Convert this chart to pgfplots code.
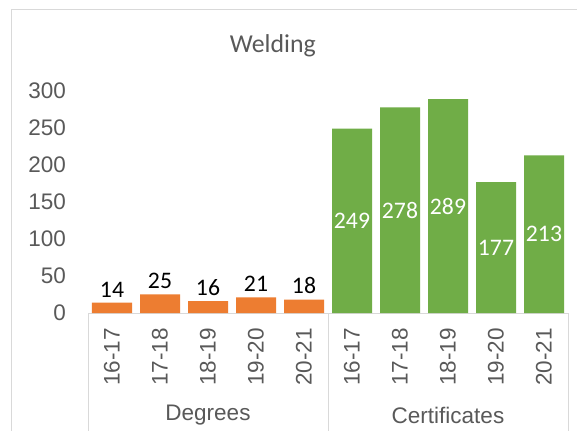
\documentclass[border=0pt]{standalone}
\usepackage{fontspec}
\setmainfont{Liberation Sans}
\newfontfamily\calibri{Carlito}
\usepackage{pgfplots}
\pgfplotsset{compat=1.18}
\definecolor{xorange}{HTML}{ED7D31}
\definecolor{xgreen}{HTML}{70AD47}
\definecolor{xtext}{HTML}{595959}
\definecolor{xline}{HTML}{D9D9D9}
\begin{document}
\begin{tikzpicture}
\path[use as bounding box] (0,0) rectangle (577bp,431bp);
\fill[white] (0,0) rectangle (577bp,431bp);
\draw[xline, line width=1bp] (11bp,0) -- (11bp,421bp) -- (577bp,421bp);
\begin{axis}[
  at={(88bp,118bp)}, anchor=south west,
  scale only axis, width=480bp, height=222bp,
  xmin=-0.5, xmax=9.5, ymin=0, ymax=300,
  axis lines*=left,
  x axis line style={xline, line width=1bp},
  y axis line style={draw=none},
  major tick length=0pt,
  ytick={0,50,100,150,200,250,300},
  yticklabels={0,50,100,150,200,250,300},
  yticklabel style={font=\fontsize{22.5bp}{27bp}\selectfont, text=xtext, inner sep=0pt, anchor=east},
  yticklabel shift=22bp,
  xtick={0,1,2,3,4,5,6,7,8,9},
  xticklabels={16-17,17-18,18-19,19-20,20-21,16-17,17-18,18-19,19-20,20-21},
  xticklabel style={font=\fontsize{22.5bp}{27bp}\selectfont, text=xtext, inner sep=0pt, rotate=90, anchor=east},
  xticklabel shift=15bp,
  clip=false,
  title={Welding},
  title style={font=\calibri\fontsize{25.8bp}{30bp}\selectfont, text=xtext, at={(0.385,1)}, anchor=center, yshift=39bp},
  /pgf/number format/assume math mode=true,
]
\addplot[ybar, fill=xorange, draw=none, bar width=40bp, bar shift=0pt,
  nodes near coords,
  nodes near coords style={font=\calibri\fontsize{23.7bp}{28bp}\selectfont, text=black, anchor=south, yshift=2bp}]
  coordinates {(0,14) (1,25) (2,16) (3,21) (4,18)};
\addplot[ybar, fill=xgreen, draw=none, bar width=40bp, bar shift=0pt,
  visualization depends on=rawy \as \rawy,
  nodes near coords,
  nodes near coords style={font=\calibri\fontsize{23.7bp}{28bp}\selectfont, text=white, anchor=center, shift={(axis direction cs:0,-\rawy/2)}}]
  coordinates {(5,249) (6,278) (7,289) (8,177) (9,213)};
\draw[xline, line width=1bp] (axis cs:-0.5,0) -- ++(0bp,-130bp);
\draw[xline, line width=1bp] (axis cs:4.5,0) -- ++(0bp,-130bp);
\draw[xline, line width=1bp] (axis cs:9.5,0) -- ++(0bp,-130bp);
\node[font=\fontsize{22.5bp}{27bp}\selectfont, text=xtext, yshift=-102bp] at (axis cs:2,0) {Degrees};
\node[font=\fontsize{22.5bp}{27bp}\selectfont, text=xtext, yshift=-102bp] at (axis cs:7,0) {Certificates};
\end{axis}
\end{tikzpicture}
\end{document}
